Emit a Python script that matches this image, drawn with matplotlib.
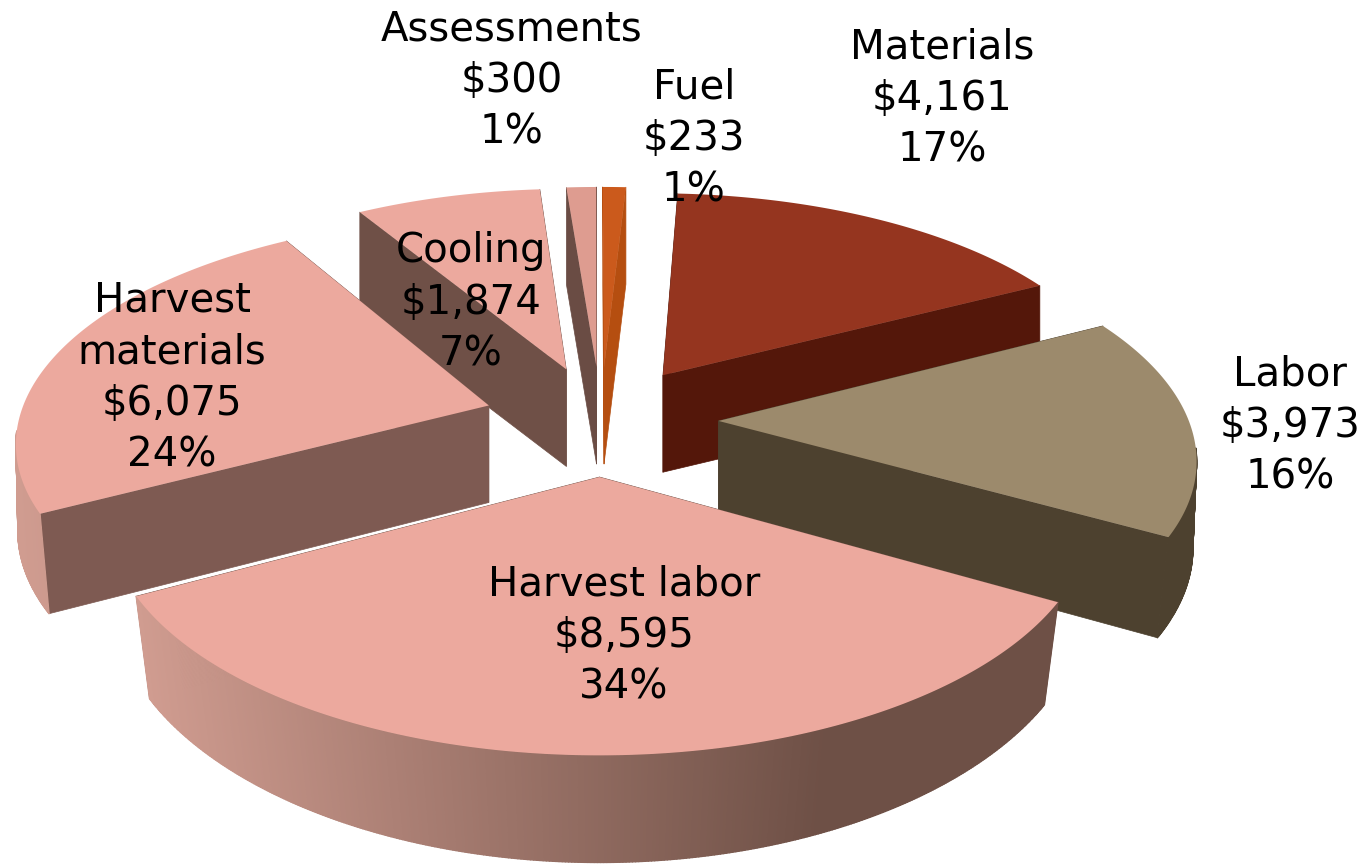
import numpy as np
import matplotlib
matplotlib.use("Agg")
import matplotlib.pyplot as plt
from matplotlib.collections import PolyCollection
from matplotlib.colors import to_rgb

names = ["Materials", "Labor", "Harvest labor", "Harvest\nmaterials", "Cooling", "Assessments", "Fuel"]
values = [4161, 3973, 8595, 6075, 1874, 300, 233]
percents = [17, 16, 34, 24, 7, 1, 1]

top_colors = ["#95351F", "#9C8A6C", "#ECA99E", "#ECA99E", "#ECA99E", "#DE9C90", "#CB5A1C"]
wall_colors = ["#54170A", "#4D412F", "#6E5046", "#7E5A52", "#6F5047", "#6A4C44", "#B54E10"]
rim_left = ["#54170A", "#4D412F", "#D09C90", "#D09C90", "#D09C90", "#6A4C44", "#B54E10"]
rim_right = ["#54170A", "#4D412F", "#6E5046", "#B98A80", "#6F5047", "#6A4C44", "#B54E10"]
label_xy = [(942, 99), (1290, 426), (624, 636), (172, 378), (471, 303), (512, 81), (694, 139)]

CX, CY, A, B, K, T, EXPLODE, START = 601, 420, 220, 470, 0.144, 97, 0.25, 3.2
SHRINK = 0.04
draw_order = [4, 5, 6, 0, 1, 3, 2]


def project(u, v):
    s = 1 / (1 - K * v)
    x = CX + B * u * s
    # the lower face sits a little closer to the centre towards the viewer
    xb = CX + (x - CX) * (1 - SHRINK * np.maximum(0, v))
    return x, CY + A * v * s, xb, T * np.maximum(1, s) ** 0.5


fig = plt.figure(figsize=(13.65, 8.65), dpi=100, facecolor="white")
ax = fig.add_axes([0, 0, 1, 1])
ax.set_xlim(0, 1365)
ax.set_ylim(865, 0)
ax.axis("off")

total = sum(values)
edges = START + 360 * np.concatenate([[0], np.cumsum(values)]) / total

for z, i in enumerate(draw_order):
    a0, a1 = edges[i], edges[i + 1]
    mid = np.radians((a0 + a1) / 2)
    du, dv = EXPLODE * np.sin(mid), -EXPLODE * np.cos(mid)
    th = np.radians(np.linspace(a0, a1, max(8, int(a1 - a0) * 3)))
    u = du + np.sin(th)
    v = dv - np.cos(th)
    x, y, xb, t = project(u, v)
    ax_, ay_, axb, at_ = project(np.array([du]), np.array([dv]))
    # radial walls
    walls = []
    for k in (0, -1):
        walls.append([(ax_[0], ay_[0]), (x[k], y[k]), (xb[k], y[k] + t[k]), (axb[0], ay_[0] + at_[0])])
    ax.add_collection(PolyCollection(walls, facecolors=wall_colors[i], edgecolors=wall_colors[i],
                                     linewidths=0.5, zorder=z * 3 + 1))
    # outer rim with a left-to-right shading
    quads, cols = [], []
    c0, c1 = np.array(to_rgb(rim_left[i])), np.array(to_rgb(rim_right[i]))
    xmin, xmax = x.min(), x.max()
    for j in range(len(x) - 1):
        if np.cos(th[j]) < -0.12:  # only the part facing the viewer
            quads.append([(x[j], y[j]), (x[j + 1], y[j + 1]),
                          (xb[j + 1], y[j + 1] + t[j + 1]), (xb[j], y[j] + t[j])])
            f = min(1.0, (x[j] - xmin) / max(xmax - xmin, 1) / 0.75)
            cols.append(c0 + (c1 - c0) * f)
    if quads:
        ax.add_collection(PolyCollection(quads, facecolors=cols, edgecolors=cols,
                                         linewidths=1.0, zorder=z * 3 + 2))
    # top face
    top = np.vstack([[ax_[0], ay_[0]], np.column_stack([x, y])])
    ax.fill(top[:, 0], top[:, 1], facecolor=top_colors[i], edgecolor="none", zorder=z * 3 + 3)

for name, val, pct, (lx, ly) in zip(names, values, percents, label_xy):
    ax.text(lx, ly, f"{name}\n${val:,}\n{pct}%", ha="center", va="center", fontsize=29,
            family="DejaVu Sans", color="black", linespacing=1.38, zorder=100)

fig.savefig("out.png", dpi=100, facecolor="white")
